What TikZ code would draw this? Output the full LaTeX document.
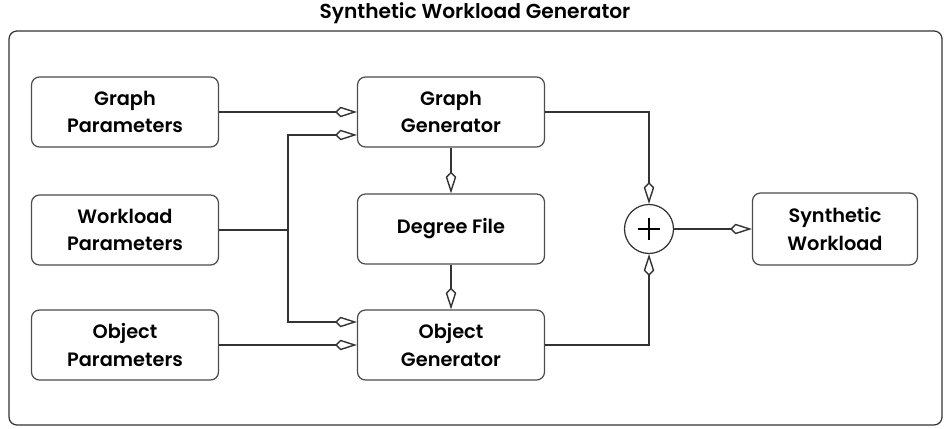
\documentclass[tikz,border=0pt]{standalone}
\usepackage{fontspec}
\setmainfont{Poppins}[BoldFont={Poppins SemiBold}]
\usepackage{tikz}
\usetikzlibrary{arrows.meta,positioning,calc}

\begin{document}
\begin{tikzpicture}[
    x=0.02cm,
    y=0.02cm,
    wire/.style={black!80, line width=0.8pt},
    feed/.style={wire, -{Kite[open, length=12.5pt, width=6pt, inset=3.2pt]}},
    block/.style={draw=black!70, line width=0.7pt, rounded corners=4.5pt,
      minimum width=3.74cm, minimum height=1.4cm, align=center,
      font=\fontsize{11}{15.5}\selectfont\bfseries},
    summer/.style={draw=black!80, line width=0.7pt, circle, minimum size=0.98cm, inner sep=0pt}
  ]
    \useasboundingbox (0,0) rectangle (951,429);

    % frame and caption
    \draw[black!80, line width=0.7pt, rounded corners=4.5pt] (9,4) rectangle (942,398);
    \node[font=\fontsize{11.5}{14.5}\selectfont\bfseries] (title) at (475,416) {Synthetic Workload Generator};

    % inputs
    \node[block] (gparam) at (125,317) {Graph\\Parameters};
    \node[block] (wparam) at (125,199) {Workload\\Parameters};
    \node[block] (oparam) at (125,84) {Object\\Parameters};

    % generators
    \node[block] (ggen) at (451,317) {Graph\\Generator};
    \node[block] (degree) at (451,200) {Degree File};
    \node[block] (ogen) at (451,84) {Object\\Generator};

    % combine
    \node[summer] (plus) at (649,200) {};
    \draw[line width=0.8pt] (plus.center) +(-11,0) -- +(11,0);
    \draw[line width=0.8pt] (plus.center) +(0,-11) -- +(0,11);
    \node[block, minimum width=3.3cm, minimum height=1.44cm] (synth) at (835,200) {Synthetic\\Workload};

    \coordinate (split) at (288,199);
    \coordinate (ggen-in) at ([yshift=-0.46cm]ggen.west);
    \coordinate (ogen-in) at ([yshift=0.46cm]ogen.west);

    \draw[feed] (gparam) -- (ggen);
    \draw[wire] (wparam) -- (split);
    \draw[feed] (split) |- (ggen-in);
    \draw[feed] (split) |- (ogen-in);
    \draw[feed] (oparam) -- (ogen);
    \draw[feed] (ggen) -- (degree);
    \draw[feed] (degree) -- (ogen);
    \draw[feed] (ggen) -| (plus);
    \draw[feed] (ogen) -| (plus);
    \draw[feed] (plus) -- (synth);
  \end{tikzpicture}
\end{document}
